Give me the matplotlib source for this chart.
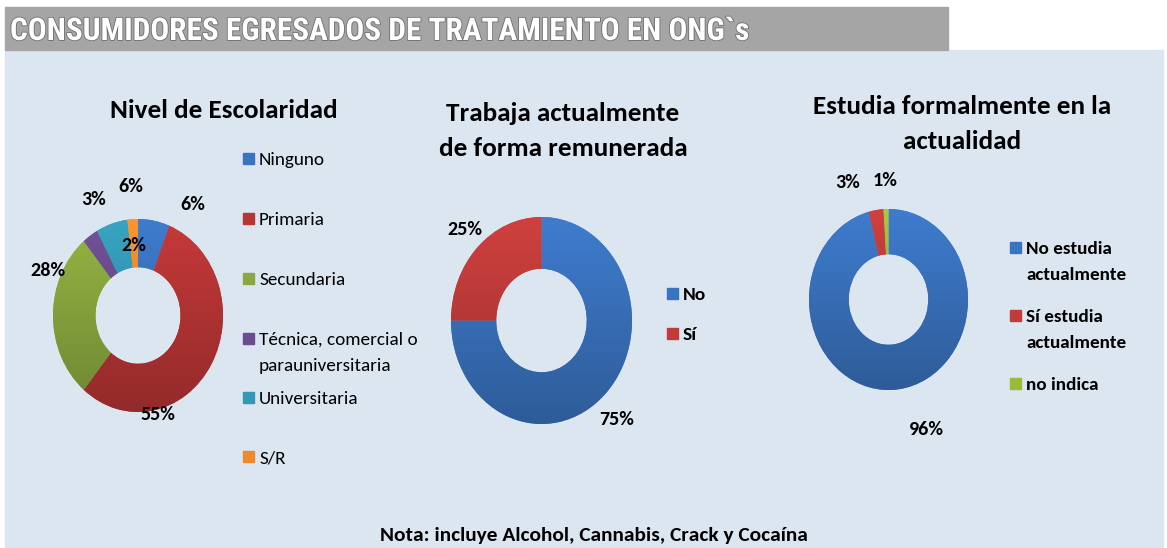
import matplotlib
matplotlib.use("Agg")
import numpy as np
import matplotlib.pyplot as plt
from matplotlib.patches import Rectangle
from matplotlib.colors import to_rgb
import matplotlib.patheffects as pe

plt.rcParams['font.family'] = ['Carlito', 'Lato', 'DejaVu Sans']

# --- datos ---
esc_labels = ["Ninguno", "Primaria", "Secundaria", "Técnica, comercial o\nparauniversitaria",
              "Universitaria", "S/R"]
esc_values = [6, 55, 28, 3, 6, 2]
esc_colors = ['#3a73bf', '#b83535', '#8aa83f', '#6b4c8e', '#3399b5', '#ec8a2c']

trab_labels = ["No", "Sí"]
trab_values = [75, 25]
trab_colors = ['#3a73bf', '#c03c3a']

est_labels = ["No estudia\nactualmente", "Sí estudia\nactualmente", "no indica"]
est_values = [96, 3, 1]
est_colors = ['#3a73bf', '#c03c3a', '#9bbb3a']

W, H = 1167, 548
fig = plt.figure(figsize=(W / 100, H / 100), dpi=100)
fig.patch.set_facecolor('white')

def px(x, y):
    return x / W, 1 - y / H

# panel and title bar
fig.patches.append(Rectangle(px(5, 548), (1163 - 5) / W, (548 - 50) / H,
                             transform=fig.transFigure, color='#dce6f1', zorder=-2))
fig.patches.append(Rectangle(px(5, 50), (948 - 5) / W, 43 / H,
                             transform=fig.transFigure, color='#a5a5a5', zorder=-2))
fig.text(*px(10, 31), "CONSUMIDORES EGRESADOS DE TRATAMIENTO EN ONG`s", color='white',
         fontsize=22.5, fontweight='bold', ha='left', va='center',
         family=['Roboto Condensed', 'Liberation Sans Narrow', 'Lato', 'DejaVu Sans'],
         path_effects=[pe.withStroke(linewidth=1.2, foreground='#6e6e6e')])


def shade(c):
    # vertical gradient, lighter on top, darker below (Excel look)
    rgb = np.array(to_rgb(c))
    t = np.linspace(1.08, 0.8, 100)[:, None]
    g = np.clip(rgb[None, :] * t, 0, 1)
    return g[:, None, :]


def donut(cx, cy, rx, ry, values, colors, label_pos):
    ax = fig.add_axes([(cx - rx) / W, (H - cy - ry) / H, 2 * rx / W, 2 * ry / H])
    wedges, _ = ax.pie(values, colors=colors, startangle=90, counterclock=False,
                       wedgeprops=dict(width=0.5, linewidth=0))
    for w, c in zip(wedges, colors):
        im = ax.imshow(shade(c), extent=(-1, 1, -1, 1), aspect='auto', zorder=2)
        im.set_clip_path(w)
    ax.set_aspect('auto')
    ax.set_xlim(-1, 1)
    ax.set_ylim(-1, 1)
    ax.axis('off')
    for v, (lx, ly) in zip(values, label_pos):
        ax.text(lx, ly, f"{v}%", ha='center', va='center', fontsize=14.5,
                fontweight='bold', color='black', clip_on=False, zorder=3)
    return ax


def legend(x, ys, labels, colors, weight, size):
    for y, lab, c in zip(ys, labels, colors):
        fig.patches.append(Rectangle(px(x, y + 5), 11 / W, 11 / H,
                                     transform=fig.transFigure, color=c))
        fig.text(*px(x + 16, y - 7), lab, ha='left', va='top', fontsize=size,
                 fontweight=weight, linespacing=1.8)


donut(138, 315.5, 85, 96.5, esc_values, esc_colors,
      [(0.65, 1.15), (0.235, -1.03), (-1.06, 0.47), (-0.52, 1.20), (-0.08, 1.34), (-0.05, 0.73)])
donut(541.5, 320.5, 90.5, 103.5, trab_values, trab_colors,
      [(0.83, -0.96), (-0.845, 0.88)])
donut(888.5, 299.5, 79.5, 90.5, est_values, est_colors,
      [(0.48, -1.44), (-0.51, 1.29), (-0.04, 1.31)])

legend(243, [159, 219, 279, 339, 398, 457], esc_labels, esc_colors, 'normal', 13.8)
legend(667, [294, 334], trab_labels, trab_colors, 'bold', 14)
legend(1010, [248, 316, 384], est_labels, est_colors, 'bold', 13.8)

fig.text(*px(224, 110), "Nivel de Escolaridad", ha='center', va='center',
         fontsize=19.5, fontweight='bold')
fig.text(*px(563, 131), "Trabaja actualmente\nde forma remunerada", ha='center', va='center',
         fontsize=19.5, fontweight='bold', linespacing=1.62)
fig.text(*px(962, 124), "Estudia formalmente en la\nactualidad", ha='center', va='center',
         fontsize=19.5, fontweight='bold', linespacing=1.62)

fig.text(*px(594, 535), "Nota: incluye Alcohol, Cannabis, Crack y Cocaína", ha='center',
         va='center', fontsize=15.4, fontweight='bold')

fig.savefig('out.png', dpi=100)
